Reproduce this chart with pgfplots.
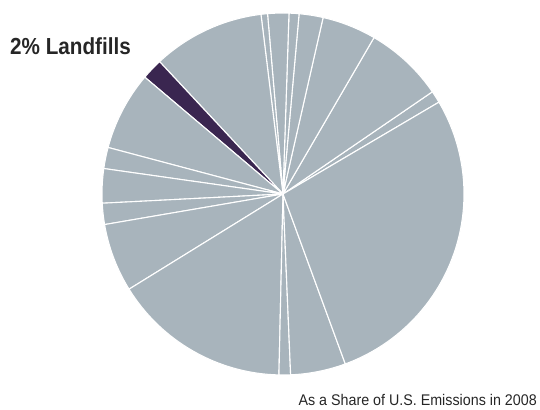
\documentclass[border=0pt]{standalone}
\usepackage{pgfplots}
\usepackage{pgfplotstable}
\pgfplotsset{compat=1.18}
\usepackage{fontspec}
\setmainfont{Liberation Sans}
\newfontfamily\headfont[FakeStretch=0.89]{Liberation Sans}
\newfontfamily\notefont[FakeStretch=0.925]{Liberation Sans}

\definecolor{slicegray}{HTML}{A8B4BC}
\definecolor{landfill}{HTML}{3A2650}

% shares in percent, counter-clockwise from 30.5 degrees; hl=1 marks the highlighted slice
\pgfplotstableread{
share hl
1.08  0
7.06  0
4.83  0
2.14  0
0.89  0
1.89  0
0.58  0
10.00 0
1.89  1
7.03  0
1.89  0
3.06  0
1.89  0
6.11  0
15.83 0
1.03  0
4.92  0
27.88 0
}\slices

\begin{document}
\begin{tikzpicture}
\begin{axis}[
    x=181bp, y=181bp,
    xmin=-1.5635, xmax=1.4199,
    ymin=-1.1934, ymax=1.0718,
    hide axis,
    clip=false,
]
    \path (rel axis cs:0,0) rectangle (rel axis cs:1,1);
    \pgfplotstablegetrowsof{\slices}
    \pgfmathtruncatemacro\last{\pgfplotsretval-1}
    \def\startangle{30.5}
    \pgfplotsforeachungrouped \i in {0,...,\last} {
        \pgfplotstablegetelem{\i}{share}\of\slices
        \pgfmathsetmacro\delta{3.6*\pgfplotsretval}
        \pgfplotstablegetelem{\i}{hl}\of\slices
        \ifnum\pgfplotsretval=1 \def\slicecol{landfill}\else\def\slicecol{slicegray}\fi
        \edef\temp{\noexpand\fill[fill=\slicecol, draw=white, line width=1.1bp, line join=round]
            (axis cs:0,0) -- (axis cs:{cos(\startangle)},{sin(\startangle)})
            arc[start angle=\startangle, delta angle=\delta, radius=181bp] -- cycle;}
        \temp
        \pgfmathsetmacro\startangle{\startangle+\delta}
    }
    \node[anchor=base west, inner sep=0pt, text=black!85, font=\headfont\bfseries\fontsize{23.3}{26}\selectfont]
        at (axis cs:-1.508,0.768) {2\% Landfills};
    \node[anchor=base east, inner sep=0pt, text=black!85, font=\notefont\fontsize{15.5}{18}\selectfont]
        at (axis cs:1.403,-1.168) {As a Share of U.S. Emissions in 2008};
\end{axis}
\end{tikzpicture}
\end{document}
